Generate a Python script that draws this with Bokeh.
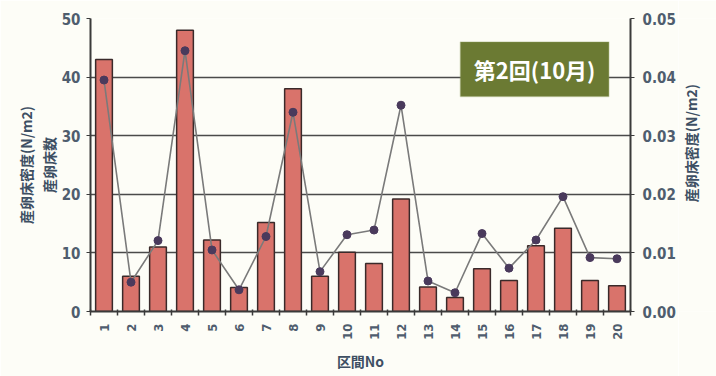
import math
from bokeh.plotting import figure
from bokeh.layouts import row
from bokeh.models import (Range1d, LinearAxis, FixedTicker, NumeralTickFormatter,
                          BoxAnnotation, Label)
from bokeh.core.properties import value
from bokeh.embed import file_html
from bokeh.resources import INLINE

# ---- data ----
sections = list(range(1, 21))
counts = [43, 6, 11, 48, 12.2, 4.1, 15.2, 38, 6, 10.1,
          8.2, 19.2, 4.2, 2.4, 7.3, 5.3, 11.2, 14.2, 5.3, 4.4]
density = [0.0395, 0.0050, 0.0121, 0.0445, 0.0105, 0.0037, 0.0128, 0.0340, 0.0068, 0.0131,
           0.0139, 0.0352, 0.0052, 0.0032, 0.0133, 0.0074, 0.0122, 0.0196, 0.0092, 0.0090]
left_ticks = [0, 10, 20, 30, 40, 50]
right_ticks = [0.00, 0.01, 0.02, 0.03, 0.04, 0.05]
title_text = "第2回(10月)"
xlabel = "区間No"
ylabel_inner = "産卵床数"
ylabel_outer = "産卵床密度(N/m2)"
ylabel_right = "産卵床密度(N/m2)"

BG = "#fdfdf7"
TICK_COL = "#4f5d6e"
LABEL_COL = "#3d4f63"
NUM_FONT = "DejaVu Sans Condensed, Liberation Sans, sans-serif"
JP_FONT = "Noto Sans CJK JP"

MAIN_W = 678
p = figure(width=MAIN_W, height=376, output_backend="svg", toolbar_location=None,
           x_range=Range1d(0.5, 20.5), y_range=Range1d(0, 50),
           min_border_left=90, min_border_right=MAIN_W - 633, min_border_top=18,
           min_border_bottom=65,
           background_fill_color=BG, border_fill_color=BG)
p.outline_line_color = None
p.extra_y_ranges = {"dens": Range1d(0, 0.05)}

# bars
p.vbar(x=sections, top=counts, width=0.62, fill_color="#d9736b",
       line_color="#3a2a2a", line_width=1.5)
# line + markers
p.line(x=sections, y=density, y_range_name="dens", line_color="#7a7a7a", line_width=1.6)
p.scatter(x=sections, y=density, y_range_name="dens", size=8,
          fill_color="#4a3a5c", line_color="#4a3a5c")

# grid
p.xgrid.visible = False
p.ygrid.ticker = FixedTicker(ticks=left_ticks)
p.ygrid.grid_line_color = "#4a4a4a"
p.ygrid.grid_line_width = 1.5

# x axis
xa = p.xaxis[0]
xa.ticker = FixedTicker(ticks=sections, minor_ticks=[i + 0.5 for i in range(0, 21)])
xa.major_tick_line_color = None
xa.minor_tick_line_color = "#3a3a3a"
xa.minor_tick_line_width = 1.5
xa.minor_tick_out = 4
xa.minor_tick_in = 2
xa.major_label_orientation = math.pi / 2
xa.major_label_text_font = NUM_FONT
xa.major_label_text_font_style = "bold"
xa.major_label_text_font_size = "13px"
xa.major_label_text_color = TICK_COL
xa.major_label_standoff = 6
xa.axis_line_color = "#3a3a3a"
xa.axis_line_width = 2
xa.axis_label = xlabel
xa.axis_label_text_font = JP_FONT
xa.axis_label_text_font_style = "bold"
xa.axis_label_text_font_size = "14px"
xa.axis_label_text_color = LABEL_COL
xa.axis_label_standoff = 8

# left axis
ya = p.yaxis[0]
ya.ticker = FixedTicker(ticks=left_ticks)
ya.major_label_text_font = NUM_FONT
ya.major_label_text_font_style = "bold"
ya.major_label_text_font_size = "15px"
ya.major_label_text_color = TICK_COL
ya.major_tick_out = 4
ya.major_tick_in = 0
ya.major_tick_line_color = "#3a3a3a"
ya.minor_tick_line_color = None
ya.axis_line_color = "#3a3a3a"
ya.axis_line_width = 2
ya.major_label_standoff = 6
ya.axis_label = ylabel_inner
ya.axis_label_text_font = JP_FONT
ya.axis_label_text_font_style = "bold"
ya.axis_label_text_font_size = "14px"
ya.axis_label_text_color = LABEL_COL
ya.axis_label_standoff = 0

outer = LinearAxis(axis_label=ylabel_outer, ticker=FixedTicker(ticks=[]),
                   axis_line_color=None, major_tick_line_color=None,
                   minor_tick_line_color=None, major_label_text_font_size="0px")
outer.axis_label_text_font = JP_FONT
outer.axis_label_text_font_style = "bold"
outer.axis_label_text_font_size = "14px"
outer.axis_label_text_color = LABEL_COL
outer.axis_label_standoff = 0
p.add_layout(outer, "left")

# right axis
ra = LinearAxis(y_range_name="dens", ticker=FixedTicker(ticks=right_ticks),
                formatter=NumeralTickFormatter(format="0.00"))
ra.major_label_text_font = NUM_FONT
ra.major_label_text_font_style = "bold"
ra.major_label_text_font_size = "15px"
ra.major_label_text_color = TICK_COL
ra.major_tick_out = 4
ra.major_tick_in = 0
ra.major_tick_line_color = "#3a3a3a"
ra.minor_tick_line_color = None
ra.axis_line_color = "#3a3a3a"
ra.axis_line_width = 2
ra.major_label_standoff = 8
p.add_layout(ra, "right")

# title box
box = BoxAnnotation(left=14.2, right=19.7, top=46, bottom=36.7,
                    fill_color="#6b7a33", fill_alpha=1.0,
                    line_color="#8b9a5a", line_width=1.5)
p.add_layout(box)
p.add_layout(Label(x=16.95, y=41.35, text=title_text, text_align="center",
                   text_baseline="middle", text_color="white",
                   text_font=JP_FONT, text_font_style="bold", text_font_size="22px"))

# narrow strip on the right carrying the right-axis title (reads bottom-to-top)
SIDE_W = 716 - MAIN_W
side = figure(width=SIDE_W, height=376, output_backend="svg", toolbar_location=None,
              x_range=Range1d(0, SIDE_W), y_range=Range1d(0, 376),
              min_border=0, background_fill_color=BG, border_fill_color=BG)
side.outline_line_color = None
side.axis.visible = False
side.grid.visible = False
side.text(x=[690 - MAIN_W], y=[376 - 160], text=[ylabel_right], angle=math.pi / 2,
          text_align="center", text_baseline="middle", text_color=LABEL_COL,
          text_font=value(JP_FONT), text_font_style="bold", text_font_size="14px")

layout = row(p, side)
open("out.html", "w").write(file_html(layout, INLINE))
